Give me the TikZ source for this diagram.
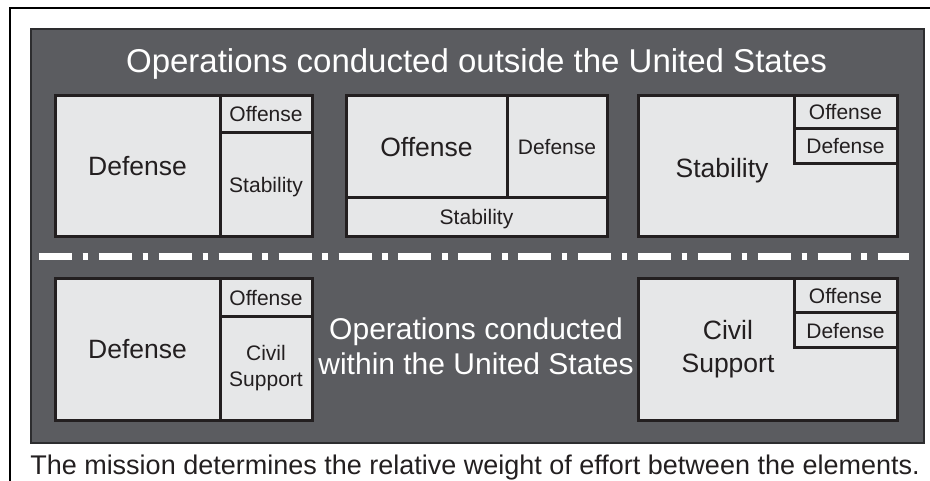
\documentclass[tikz,border=0pt]{standalone}
\usepackage{fontspec}
\setmainfont{Liberation Sans}
\usetikzlibrary{math}
\definecolor{panelgray}{HTML}{5B5C60}
\definecolor{paneledge}{HTML}{2D2D2F}
\definecolor{boxgray}{HTML}{E6E7E8}
\definecolor{inkblack}{HTML}{231F20}

\begin{document}
\begin{tikzpicture}[x=1pt, y=-1pt,
    cell/.style={draw=inkblack, line width=3pt, fill=boxgray, text=inkblack, inner sep=0pt, align=center},
    big/.style={font=\fontsize{26.5}{33}\selectfont},
    small/.style={font=\fontsize{21}{26}\selectfont},
    bigc/.style={big, text height=19pt, text depth=0pt},
    smallc/.style={small, text height=15pt, text depth=0pt}]
      \tikzmath{\rowa = 166.5; \rowb = 349.5;}
      \useasboundingbox (0,0) rectangle (930,481);
      \draw[black, line width=2pt] (10,481) -- (10,8) -- (930,8);
      \node[fill=panelgray, draw=paneledge, line width=2.5pt, minimum width=893pt, minimum height=414pt] (panel) at (477.5,236) {};
      \node[white, font=\fontsize{33}{40}\selectfont, anchor=base] (title) at (476.5,73) {Operations conducted outside the United States};
      % outside the United States
      \node[cell, bigc, minimum width=165pt, minimum height=141pt] (tl-def) at (137.5,\rowa) {Defense};
      \node[cell, smallc, minimum width=92pt, minimum height=37pt] (tl-off) at (266,114.5) {Offense};
      \node[cell, smallc, minimum width=92pt, minimum height=104pt] (tl-stab) at (266,185) {Stability};
      \node[cell, bigc, minimum width=161pt, minimum height=102pt] (tm-off) at (426.5,147) {Offense};
      \node[cell, smallc, minimum width=100pt, minimum height=102pt] (tm-def) at (557,147) {Defense};
      \node[cell, smallc, minimum width=261pt, minimum height=39pt] (tm-stab) at (476.5,217.5) {Stability};
      \node[cell, minimum width=259pt, minimum height=141pt] (tr) at (767.5,\rowa) {};
      \node[bigc, text=inkblack] (tr-stab) at (722,168) {Stability};
      \node[cell, smallc, minimum width=103pt, minimum height=33pt] (tr-off) at (845.5,112.5) {Offense};
      \node[cell, smallc, minimum width=103pt, minimum height=35pt] (tr-def) at (845.5,146.5) {Defense};
      \coordinate (sep-w) at (39,257);
      \coordinate (sep-e) at (909,257);
      \draw[white, line width=7pt, dash pattern=on 33pt off 10.7pt on 5.5pt off 10.7pt] (sep-w) -- (sep-e);
      % within the United States
      \node[cell, bigc, minimum width=165pt, minimum height=141pt] (bl-def) at (137.5,\rowb) {Defense};
      \node[cell, smallc, minimum width=92pt, minimum height=38pt] (bl-off) at (266,298) {Offense};
      \node[cell, small, minimum width=92pt, minimum height=103pt] (bl-civ) at (266,368.5) {Civil\\Support};
      \node[white, font=\fontsize{30}{35}\selectfont, align=center] (inside) at (476,346) {Operations conducted\\within the United States};
      \node[cell, minimum width=259pt, minimum height=141pt] (br) at (767.5,\rowb) {};
      \node[big, text=inkblack, align=center] (br-civ) at (728,349) {Civil\\Support};
      \node[cell, smallc, minimum width=103pt, minimum height=34pt] (br-off) at (845.5,296) {Offense};
      \node[cell, smallc, minimum width=103pt, minimum height=35pt] (br-def) at (845.5,330.5) {Defense};
      \node[text=inkblack, font=\fontsize{27}{32}\selectfont, anchor=base] (caption) at (475,474) {The mission determines the relative weight of effort between the elements.};
    \end{tikzpicture}
\end{document}
